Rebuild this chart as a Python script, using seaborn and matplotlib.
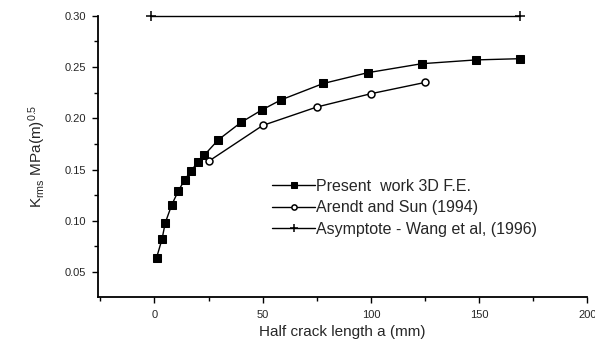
import matplotlib
matplotlib.use("Agg")
import matplotlib.pyplot as plt
import seaborn as sns
import pandas as pd
from matplotlib.ticker import MultipleLocator

# ── Data ──────────────────────────────────────────────────────────────────────
present_x = [1, 3.5, 5, 8, 11, 14, 17, 20, 23, 29.5, 40, 49.5, 58.5, 78, 98.5, 123.5, 148.5, 169]
present_y = [0.064, 0.082, 0.098, 0.1155, 0.129, 0.140, 0.149, 0.157, 0.164, 0.179,
             0.196, 0.208, 0.218, 0.234, 0.2445, 0.2533, 0.257, 0.2582]

arendt_x = [25, 50, 75, 100, 125]
arendt_y = [0.158, 0.193, 0.211, 0.224, 0.235]

asym_x = [-1.5, 169]
asym_y = [0.30, 0.30]

labels = ["Present  work 3D F.E.", "Arendt and Sun (1994)", "Asymptote - Wang et al, (1996)"]

# ── Plot ──────────────────────────────────────────────────────────────────────
sns.set_style("ticks")
plt.rcParams["font.family"] = ["Liberation Sans", "DejaVu Sans"]
plt.rcParams["mathtext.fontset"] = "custom"
plt.rcParams["mathtext.rm"] = "Liberation Sans"
plt.rcParams["mathtext.it"] = "Liberation Sans"

fig = plt.figure(figsize=(5.95, 3.45), dpi=100)
ax = fig.add_axes([0.165, 0.139, 0.822, 0.815])

df_p = pd.DataFrame({"x": present_x, "y": present_y})
df_a = pd.DataFrame({"x": arendt_x, "y": arendt_y})
df_w = pd.DataFrame({"x": asym_x, "y": asym_y})

sns.lineplot(data=df_p, x="x", y="y", ax=ax, color="black", lw=1, marker="s",
             markersize=5.5, markeredgecolor="black", markerfacecolor="black",
             sort=False, estimator=None, label=labels[0], clip_on=False)
sns.lineplot(data=df_a, x="x", y="y", ax=ax, color="black", lw=1, marker="o",
             markersize=5, markeredgecolor="black", markerfacecolor="white",
             markeredgewidth=1.1, sort=False, estimator=None, label=labels[1], clip_on=False)
sns.lineplot(data=df_w, x="x", y="y", ax=ax, color="black", lw=1, marker="+",
             markersize=7, markeredgewidth=1.1, markeredgecolor="black",
             sort=False, estimator=None, label=labels[2], clip_on=False)

ax.set_xlim(-26, 200)
ax.set_ylim(0.0255, 0.30)
ax.xaxis.set_major_locator(MultipleLocator(50))
ax.xaxis.set_minor_locator(MultipleLocator(25))
ax.yaxis.set_minor_locator(MultipleLocator(0.025))
ax.set_yticks([0.05, 0.10, 0.15, 0.20, 0.25, 0.30])
ax.set_yticklabels(["0.05", "0.10", "0.15", "0.20", "0.25", "0.30"])

sns.despine(ax=ax)
for s in ["left", "bottom"]:
    ax.spines[s].set_linewidth(1.3)
    ax.spines[s].set_color("black")
ax.tick_params(which="major", length=4, width=1, color="black", labelsize=8, pad=5)
ax.tick_params(which="minor", length=3, width=1, color="black")
ax.tick_params(axis="x", which="major", pad=5)

ax.set_xlabel("Half crack length a (mm)", fontsize=11, labelpad=4)
ax.set_ylabel(r"K$_{\rm rms}$ MPa(m)$^{0.5}$", fontsize=11, labelpad=12)

ax.legend(loc="upper left", bbox_to_anchor=(0.343, 0.444), frameon=False,
          fontsize=11.5, handlelength=2.7, handletextpad=0.05, labelspacing=0.42,
          borderaxespad=0, markerscale=0.75)

fig.savefig("out.png", dpi=100)
